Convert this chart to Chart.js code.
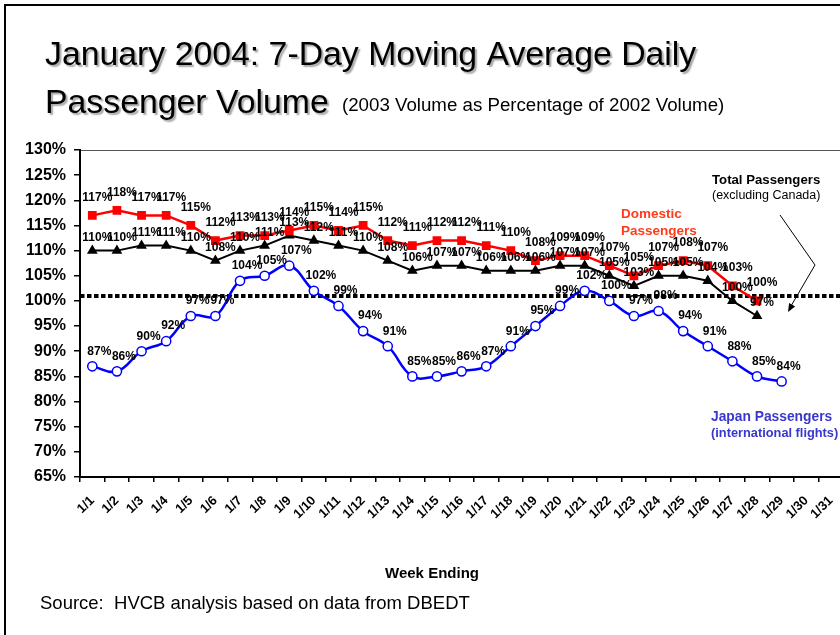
<!DOCTYPE html>
<html>
<head>
<meta charset="utf-8">
<script src="https://cdn.jsdelivr.net/npm/chart.js@4.4.1/dist/chart.umd.min.js"></script>
<style>
html,body{margin:0;padding:0;overflow:hidden;background:#fff;width:840px;height:635px}
#wrap{position:relative;width:853px;height:635px}
canvas{display:block}
</style>
</head>
<body>
<div id="wrap"><canvas id="c" width="853" height="635"></canvas></div>
<script>
// ---- data ----
const CATEGORIES = ['1/1','1/2','1/3','1/4','1/5','1/6','1/7','1/8','1/9','1/10',
  '1/11','1/12','1/13','1/14','1/15','1/16','1/17','1/18','1/19','1/20',
  '1/21','1/22','1/23','1/24','1/25','1/26','1/27','1/28','1/29','1/30','1/31'];
const DOMESTIC = [117,118,117,117,115,112,113,113,114,115,
  114,115,112,111,112,112,111,110,108,109,
  109,107,105,107,108,107,103,100];
const TOTAL = [110,110,111,111,110,108,110,111,113,112,
  111,110,108,106,107,107,106,106,106,107,
  107,105,103,105,105,104,100,97];
const JAPAN = [87,86,90,92,97,97,104,105,107,102,
  99,94,91,85,85,86,87,91,95,99,
  102,100,97,98,94,91,88,85,84];
const Y_MIN = 65, Y_MAX = 130, Y_STEP = 5;
const REFERENCE_LINE = 101;

const FONT = "'Liberation Sans', Arial, sans-serif";

// ---- plugins ----
const framePlugin = {
  id: 'frame',
  beforeDraw(chart) {
    const ctx = chart.ctx, a = chart.chartArea;
    ctx.save();
    ctx.fillStyle = '#fff';
    ctx.fillRect(0, 0, chart.width, chart.height);
    ctx.strokeStyle = '#000';
    ctx.lineWidth = 2;
    ctx.beginPath();
    ctx.moveTo(5, chart.height);
    ctx.lineTo(5, 5);
    ctx.lineTo(chart.width, 5);
    ctx.stroke();
    ctx.strokeStyle = '#555';
    ctx.lineWidth = 1;
    ctx.strokeRect(a.left + 0.5, a.top + 0.5, a.right - a.left, a.bottom - a.top);
    ctx.restore();
  }
};

const refLinePlugin = {
  id: 'refline',
  beforeDatasetsDraw(chart) {
    const ctx = chart.ctx, a = chart.chartArea;
    const y = chart.scales.y.getPixelForValue(REFERENCE_LINE);
    ctx.save();
    ctx.strokeStyle = '#000';
    ctx.lineWidth = 4;
    ctx.setLineDash([4.5, 2.5]);
    ctx.beginPath();
    ctx.moveTo(a.left, y);
    ctx.lineTo(a.right, y);
    ctx.stroke();
    ctx.restore();
  }
};

const valueLabelPlugin = {
  id: 'vlabels',
  afterDatasetsDraw(chart) {
    const ctx = chart.ctx;
    ctx.save();
    ctx.font = 'bold 12px ' + FONT;
    ctx.fillStyle = '#000';
    ctx.textAlign = 'center';
    ctx.textBaseline = 'middle';
    chart.data.datasets.forEach((ds, i) => {
      const meta = chart.getDatasetMeta(i);
      const off = ds.labelOffset || [0, -14];
      meta.data.forEach((pt, j) => {
        ctx.fillText(ds.data[j] + '%', pt.x + off[0], pt.y + off[1]);
      });
    });
    ctx.restore();
  }
};

const textPlugin = {
  id: 'texts',
  afterDraw(chart) {
    const ctx = chart.ctx;
    ctx.save();
    // title
    ctx.textBaseline = 'alphabetic';
    ctx.textAlign = 'left';
    ctx.fillStyle = '#000';
    ctx.shadowColor = 'rgba(0,0,0,0.35)';
    ctx.shadowOffsetX = 2;
    ctx.shadowOffsetY = 2;
    ctx.shadowBlur = 1.5;
    ctx.font = '33.8px ' + FONT;
    ctx.fillText('January 2004: 7-Day Moving Average Daily', 45, 65);
    ctx.fillText('Passenger Volume', 45, 113);
    ctx.shadowColor = 'transparent';
    ctx.font = '18.7px ' + FONT;
    ctx.fillText('(2003 Volume as Percentage of 2002 Volume)', 342, 111);

    // annotations
    ctx.textBaseline = 'middle';
    ctx.font = 'bold 13.2px ' + FONT;
    ctx.fillStyle = '#000';
    ctx.fillText('Total Passengers', 712, 180);
    ctx.font = '12.5px ' + FONT;
    ctx.fillText('(excluding Canada)', 712, 196);

    ctx.font = 'bold 13.5px ' + FONT;
    ctx.fillStyle = '#FF3B1A';
    ctx.fillText('Domestic', 621, 214);
    ctx.fillText('Passengers', 621, 231);

    ctx.fillStyle = '#3838CC';
    ctx.font = 'bold 13.8px ' + FONT;
    ctx.fillText('Japan Passengers', 711, 417);
    ctx.font = 'bold 12.8px ' + FONT;
    ctx.fillText('(international flights)', 711, 433);

    // arrow
    ctx.strokeStyle = '#000';
    ctx.fillStyle = '#000';
    ctx.lineWidth = 1;
    ctx.beginPath();
    ctx.moveTo(780, 215);
    ctx.lineTo(815, 265);
    ctx.lineTo(791, 306);
    ctx.stroke();
    const ex = 788, ey = 312;
    const ang = Math.atan2(ey - 265, ex - 815);
    ctx.beginPath();
    ctx.moveTo(ex, ey);
    ctx.lineTo(ex - 9 * Math.cos(ang - 0.4), ey - 9 * Math.sin(ang - 0.4));
    ctx.lineTo(ex - 9 * Math.cos(ang + 0.4), ey - 9 * Math.sin(ang + 0.4));
    ctx.closePath();
    ctx.fill();

    // axis title + source
    ctx.fillStyle = '#000';
    ctx.textAlign = 'center';
    ctx.font = 'bold 15px ' + FONT;
    ctx.fillText('Week Ending', 432, 574);
    ctx.textAlign = 'left';
    ctx.font = '18.5px ' + FONT;
    ctx.fillText('Source:  HVCB analysis based on data from DBEDT', 40, 604);
    ctx.restore();
  }
};

new Chart(document.getElementById('c'), {
  type: 'line',
  data: {
    labels: CATEGORIES,
    datasets: [
      {
        label: 'Domestic Passengers',
        data: DOMESTIC,
        borderColor: '#FF0000',
        backgroundColor: '#FF0000',
        borderWidth: 2.5,
        pointStyle: 'rect',
        pointRadius: 6.2,
        pointBorderWidth: 0,
        pointBackgroundColor: '#FF0000',
        tension: 0,
        labelOffset: [5, -18]
      },
      {
        label: 'Total Passengers',
        data: TOTAL,
        borderColor: '#000',
        backgroundColor: '#000',
        borderWidth: 2,
        pointStyle: 'triangle',
        pointRadius: 6.2,
        pointBorderWidth: 0,
        pointBackgroundColor: '#000',
        tension: 0,
        labelOffset: [5, -13]
      },
      {
        label: 'Japan Passengers',
        data: JAPAN,
        borderColor: '#0000FF',
        backgroundColor: '#fff',
        borderWidth: 2.5,
        pointStyle: 'circle',
        pointRadius: 4.6,
        pointBorderWidth: 1.5,
        pointBorderColor: '#0000FF',
        pointBackgroundColor: '#fff',
        tension: 0.4,
        labelOffset: [7, -15]
      }
    ]
  },
  options: {
    responsive: false,
    animation: false,
    events: [],
    layout: { padding: { top: 150, right: 3, left: 0, bottom: 0 } },
    plugins: { legend: { display: false }, tooltip: { enabled: false }, title: { display: false } },
    scales: {
      x: {
        type: 'category',
        offset: true,
        grid: { offset: true, drawOnChartArea: false, drawTicks: true, tickLength: 5, color: '#000', lineWidth: 1.5 },
        border: { color: '#000', width: 2 },
        ticks: {
          autoSkip: false, minRotation: 45, maxRotation: 45,
          font: { family: FONT, size: 13, weight: 'bold' }, color: '#000', padding: 11
        },
        afterFit(scale) { scale.height = 158; }
      },
      y: {
        min: Y_MIN, max: Y_MAX,
        grid: { drawOnChartArea: false, drawTicks: true, tickLength: 6, color: '#000', lineWidth: 1.5 },
        border: { color: '#000', width: 2 },
        ticks: {
          stepSize: Y_STEP,
          callback: v => v + '%',
          font: { family: FONT, size: 16, weight: 'bold' }, color: '#000', padding: 8
        },
        afterFit(scale) { scale.width = 80; }
      }
    }
  },
  plugins: [framePlugin, refLinePlugin, valueLabelPlugin, textPlugin]
});
</script>
</body>
</html>
